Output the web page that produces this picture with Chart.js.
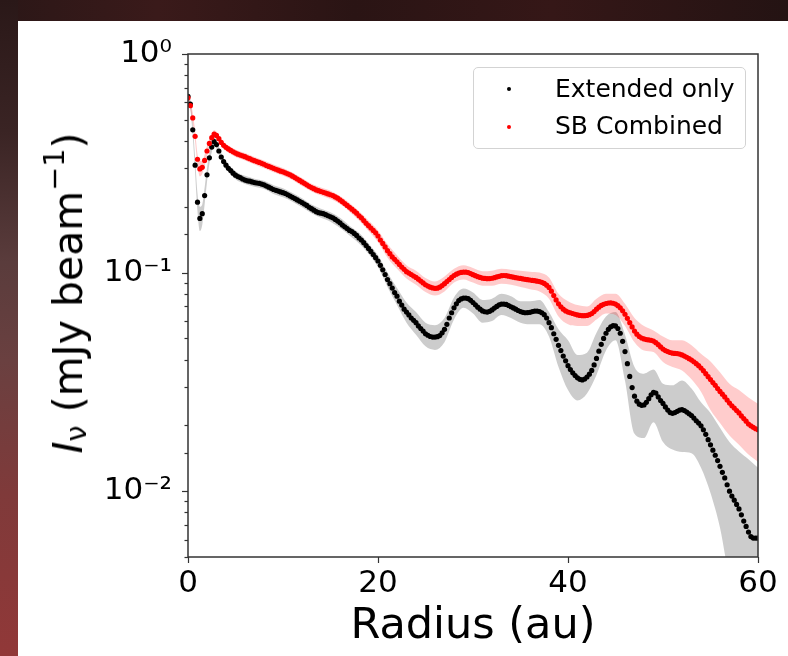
<!DOCTYPE html>
<html>
<head>
<meta charset="utf-8">
<script src="https://cdn.jsdelivr.net/npm/chart.js@4"></script>
<style>
html,body{margin:0;padding:0;}
body{width:788px;height:656px;position:relative;overflow:hidden;background:#2a1616;font-family:"DejaVu Sans";}
#bgTop{position:absolute;left:0;top:0;width:788px;height:21px;background:linear-gradient(to right,#2b1717,#3a1a1a 20%,#2a1414 45%,#351717 70%,#241313);}
#bgLeft{position:absolute;left:0;top:0;width:18px;height:656px;background:linear-gradient(to bottom,#2a1818 0%,#3a2424 20%,#5a3c3c 40%,#6a4040 55%,#7f3a3a 75%,#913838 100%);}
#panel{position:absolute;left:18px;top:21px;width:770px;height:635px;background:#fff;}
#c{position:absolute;left:0;top:0;}
#legend{position:absolute;left:473px;top:67px;width:271px;height:80px;border:1px solid #d3d3d3;border-radius:5px;background:rgba(255,255,255,0.8);}
.dot{position:absolute;width:4px;height:4px;border-radius:50%;}
.lt{position:absolute;left:81px;font-size:25px;line-height:25px;white-space:nowrap;color:#000;}
#ytitle{position:absolute;left:68px;top:293px;transform:translate(-50%,-50%) rotate(-90deg);font-size:41px;line-height:48px;white-space:nowrap;color:#000;}
#ytitle sub{font-size:70%;vertical-align:-4px;line-height:0;}
#ytitle sup{font-size:70%;vertical-align:18px;line-height:0;}
</style>
</head>
<body>
<div id="bgTop"></div>
<div id="bgLeft"></div>
<div id="panel"></div>
<canvas id="c" width="788" height="656"></canvas>
<div id="ytitle"><i>I</i><sub>ν</sub> (mJy beam<sup>−1</sup>)</div>
<div id="legend">
  <span class="dot" style="left:33px;top:19px;background:#000"></span>
  <div class="lt" style="top:8px">Extended only</div>
  <span class="dot" style="left:33px;top:57px;background:#f00"></span>
  <div class="lt" style="top:45px">SB Combined</div>
</div>
<script>
// Radius sample positions (au)
const radius = [0,0.25,0.5,0.75,1,1.25,1.5,1.75,2,2.25,2.5,2.75,3,3.25,3.5,3.75,4,4.25,4.5,4.75,5,5.25,5.5,5.75,6,6.25,6.5,6.75,7,7.25,7.5,7.75,8,8.25,8.5,8.75,9,9.25,9.5,9.75,10,10.25,10.5,10.75,11,11.25,11.5,11.75,12,12.25,12.5,12.75,13,13.25,13.5,13.75,14,14.25,14.5,14.75,15,15.25,15.5,15.75,16,16.25,16.5,16.75,17,17.25,17.5,17.75,18,18.25,18.5,18.75,19,19.25,19.5,19.75,20,20.25,20.5,20.75,21,21.25,21.5,21.75,22,22.25,22.5,22.75,23,23.25,23.5,23.75,24,24.25,24.5,24.75,25,25.25,25.5,25.75,26,26.25,26.5,26.75,27,27.25,27.5,27.75,28,28.25,28.5,28.75,29,29.25,29.5,29.75,30,30.25,30.5,30.75,31,31.25,31.5,31.75,32,32.25,32.5,32.75,33,33.25,33.5,33.75,34,34.25,34.5,34.75,35,35.25,35.5,35.75,36,36.25,36.5,36.75,37,37.25,37.5,37.75,38,38.25,38.5,38.75,39,39.25,39.5,39.75,40,40.25,40.5,40.75,41,41.25,41.5,41.75,42,42.25,42.5,42.75,43,43.25,43.5,43.75,44,44.25,44.5,44.75,45,45.25,45.5,45.75,46,46.25,46.5,46.75,47,47.25,47.5,47.75,48,48.25,48.5,48.75,49,49.25,49.5,49.75,50,50.25,50.5,50.75,51,51.25,51.5,51.75,52,52.25,52.5,52.75,53,53.25,53.5,53.75,54,54.25,54.5,54.75,55,55.25,55.5,55.75,56,56.25,56.5,56.75,57,57.25,57.5,57.75,58,58.25,58.5,58.75,59,59.25,59.5,59.75,60];

// Extended only (mJy/beam)
const extendedOnly = [
0.64,0.59,0.45,0.31, 0.21,0.177,0.186,0.225, 0.28,0.335,0.375,0.397, 0.385,0.36,0.338,0.322,
0.31,0.30,0.293,0.285, 0.279,0.275,0.272,0.268, 0.265,0.263,0.262,0.260, 0.258,0.257,0.256,0.254,
0.252,0.249,0.246,0.243, 0.240,0.238,0.236,0.234, 0.232,0.230,0.227,0.224, 0.221,0.218,0.215,0.212,
0.209,0.206,0.203,0.199, 0.196,0.193,0.190,0.188, 0.187,0.186,0.184,0.182, 0.180,0.178,0.175,0.172,
0.169,0.165,0.162,0.159, 0.156,0.154,0.151,0.148, 0.144,0.141,0.137,0.133, 0.129,0.125,0.121,0.117,
0.113,0.108,0.103,0.098, 0.093,0.089,0.085,0.081, 0.078,0.074,0.071,0.068, 0.066,0.064,0.062,0.0605,
0.059,0.057,0.0555,0.054, 0.0525,0.0517,0.051,0.0507, 0.0507,0.0509,0.0515,0.053, 0.055,0.058,0.062,0.0655,
0.069,0.072,0.0745,0.0758, 0.0765,0.0765,0.076,0.0747, 0.073,0.0712,0.0695,0.068, 0.0668,0.0662,0.066,0.0665,
0.0675,0.0688,0.070,0.0712, 0.0718,0.0718,0.0715,0.0707, 0.0698,0.0689,0.068,0.0671, 0.0663,0.0658,0.0655,0.0656,
0.0658,0.0663,0.0667,0.0667, 0.0663,0.0655,0.0642,0.062, 0.059,0.056,0.0525,0.0495, 0.0465,0.044,0.0415,0.0395,
0.0375,0.036,0.0348,0.0338, 0.033,0.0325,0.0323,0.0326, 0.0333,0.0343,0.0357,0.0378, 0.0405,0.0437,0.047,0.050,
0.0528,0.055,0.0565,0.0572, 0.057,0.0555,0.0528,0.0485, 0.0435,0.0383,0.0335,0.0298, 0.0272,0.0258,0.025,0.0247,
0.0248,0.0255,0.0265,0.0276, 0.0283,0.0281,0.027,0.026, 0.0252,0.0243,0.0235,0.0229, 0.0227,0.0229,0.0232,0.0235,
0.0236,0.0234,0.023,0.0226, 0.0222,0.0216,0.021,0.0205, 0.0199,0.0191,0.0182,0.0172, 0.0163,0.0154,0.0146,0.0138,
0.013,0.0122,0.0115,0.0107, 0.01,0.0095,0.0091,0.0087, 0.0083,0.0078,0.0073,0.0069, 0.0065,0.0062,0.0061,0.0061,
0.0061];

// SB Combined (mJy/beam)
const sbCombined = [
0.63,0.58,0.51,0.42, 0.33,0.298,0.303,0.326, 0.36,0.39,0.414,0.43, 0.424,0.41,0.394,0.382,
0.374,0.368,0.362,0.357, 0.352,0.348,0.345,0.342, 0.339,0.335,0.332,0.328, 0.325,0.322,0.319,0.316,
0.313,0.309,0.306,0.303, 0.3,0.297,0.294,0.291, 0.289,0.286,0.283,0.28, 0.276,0.272,0.268,0.264,
0.26,0.256,0.252,0.248, 0.245,0.242,0.239,0.237, 0.235,0.233,0.231,0.229, 0.227,0.225,0.222,0.219,
0.215,0.211,0.207,0.203, 0.199,0.195,0.191,0.187, 0.182,0.178,0.173,0.168, 0.164,0.16,0.156,0.152,
0.147,0.141,0.136,0.131, 0.126,0.122,0.118,0.115, 0.112,0.109,0.106,0.1035, 0.101,0.0995,0.098,0.0965,
0.095,0.0933,0.0915,0.0897, 0.088,0.0868,0.0858,0.0851, 0.0847,0.0849,0.0858,0.0872, 0.089,0.091,0.093,0.095,
0.097,0.0984,0.0995,0.1002, 0.1005,0.1004,0.1,0.099, 0.0978,0.0968,0.0958,0.095, 0.0943,0.094,0.0938,0.0939,
0.0942,0.0948,0.0955,0.0962, 0.0968,0.097,0.0968,0.0963, 0.0958,0.0953,0.0948,0.0944, 0.094,0.0936,0.0932,0.0928,
0.0925,0.0921,0.0918,0.0914, 0.091,0.0903,0.0892,0.0876, 0.0855,0.0822,0.0785,0.075, 0.072,0.0698,0.068,0.0668,
0.066,0.0655,0.065,0.0645, 0.064,0.0637,0.0635,0.0635, 0.0637,0.0642,0.065,0.0663, 0.068,0.0695,0.0708,0.0716,
0.0722,0.0726,0.0727,0.0724, 0.0718,0.0706,0.069,0.0669, 0.0645,0.0618,0.059,0.0564, 0.054,0.0523,0.051,0.0502,
0.0497,0.0494,0.0492,0.049, 0.0486,0.0478,0.0468,0.0457, 0.0447,0.044,0.0435,0.0431, 0.0428,0.0427,0.0426,0.0424,
0.042,0.0415,0.041,0.0404, 0.0398,0.0391,0.0383,0.0375, 0.0366,0.0356,0.0345,0.0334, 0.0324,0.0314,0.0305,0.0295,
0.0286,0.0278,0.027,0.0261, 0.0253,0.0246,0.024,0.0234, 0.0228,0.0221,0.0215,0.0209, 0.0203,0.0199,0.0196,0.0193,
0.0191];

// Uncertainty band sample positions (au)
const bandRadius = [0,0.25,0.5,0.75,1,1.25,1.5,1.75,2,2.25,2.5,2.75,3,3.25,3.5,3.75,4,5,6,7,8,9,10,11,12,13,14,15,16,17,18,19,20,21,22,23,24,25,26,27,28,29,30,31,32,33,34,35,36,37,38,39,40,41,42,43,44,45,46,47,48,49,50,51,52,53,54,55,56,57,58,59,60];

const extendedLow = [0.62,0.56,0.42,0.285,0.19,0.155,0.165,0.205,0.26,0.315,0.355,0.38,0.37,0.345,0.325,0.309,0.298,
0.267,0.254,0.247,0.241,0.229,0.221,0.211,0.199,0.187,0.178,0.171,0.160,0.148,0.136,0.122,0.106,0.086,0.071,0.059,0.052,0.046,0.0443,0.048,0.061,0.069,0.065,0.059,0.060,0.064,0.062,0.059,0.058,0.058,0.051,0.037,0.029,0.026,0.028,0.034,0.044,0.049,0.032,0.0183,0.0175,0.0207,0.0168,0.0155,0.0151,0.0149,0.0128,0.0098,0.0068,0.0040,0.0030,0.0025,0.0022];
const extendedHigh = [0.66,0.62,0.48,0.335,0.23,0.20,0.205,0.245,0.30,0.355,0.395,0.415,0.40,0.375,0.352,0.335,0.322,
0.291,0.277,0.269,0.263,0.251,0.243,0.231,0.219,0.205,0.196,0.189,0.178,0.164,0.152,0.136,0.120,0.100,0.085,0.073,0.066,0.059,0.0575,0.062,0.077,0.0845,0.081,0.075,0.076,0.080,0.078,0.074,0.074,0.075,0.066,0.055,0.049,0.042,0.043,0.053,0.063,0.066,0.052,0.037,0.0345,0.036,0.031,0.0305,0.0321,0.0295,0.0255,0.0228,0.0195,0.0168,0.0152,0.0140,0.0128];
const combinedLow = [0.61,0.555,0.48,0.395,0.31,0.275,0.283,0.307,0.34,0.372,0.397,0.413,0.408,0.395,0.38,0.368,0.36,
0.338,0.326,0.312,0.300,0.288,0.277,0.265,0.249,0.235,0.225,0.217,0.206,0.190,0.173,0.155,0.138,0.117,0.104,0.094,0.088,0.0815,0.0785,0.082,0.090,0.093,0.090,0.087,0.087,0.089,0.088,0.086,0.084,0.082,0.076,0.063,0.058,0.057,0.057,0.061,0.065,0.064,0.057,0.048,0.044,0.0433,0.039,0.037,0.0357,0.0325,0.0285,0.0235,0.0205,0.0180,0.0163,0.0147,0.0136];
const combinedHigh = [0.65,0.605,0.54,0.445,0.35,0.325,0.325,0.347,0.38,0.41,0.432,0.448,0.441,0.426,0.409,0.396,0.388,
0.366,0.352,0.338,0.326,0.312,0.301,0.287,0.271,0.255,0.245,0.237,0.224,0.208,0.191,0.173,0.156,0.135,0.120,0.108,0.102,0.0945,0.091,0.096,0.104,0.108,0.105,0.1015,0.102,0.104,0.103,0.102,0.101,0.100,0.095,0.080,0.074,0.071,0.070,0.076,0.080,0.080,0.072,0.062,0.057,0.0544,0.051,0.049,0.049,0.0465,0.0425,0.0392,0.0350,0.0310,0.0290,0.0268,0.0251];

// Axis ticks
const xTicks = [0, 20, 40, 60];
const yDecades = [1, 0.1, 0.01];
const supMap = {'-':'⁻','0':'⁰','1':'¹','2':'²','3':'³'};

function pts(xs, ys){ return xs.map((x,i)=>({x:x, y:ys[i]})); }
function isDecade(v){ const l = Math.log10(v); return Math.abs(l - Math.round(l)) < 1e-6; }
function decadeLabel(v){
  const e = String(Math.round(Math.log10(v)));
  return '10' + e.split('').map(c=>supMap[c]).join('');
}

const framePlugin = {
  id: 'frame',
  afterDatasetsDraw(chart){
    const ctx = chart.ctx, a = chart.chartArea, y = chart.scales.y;
    ctx.save();
    ctx.strokeStyle = '#333';
    ctx.lineWidth = 1.2;
    y.ticks.forEach(t => {
      const py = Math.round(y.getPixelForValue(t.value)) + 0.5;
      const len = isDecade(t.value) ? 6 : 3.5;
      ctx.beginPath(); ctx.moveTo(a.left - len, py); ctx.lineTo(a.left, py); ctx.stroke();
    });
    ctx.lineWidth = 1.5;
    ctx.strokeRect(a.left, a.top, a.right - a.left, a.bottom - a.top);
    ctx.restore();
  }
};

const font = 'DejaVu Sans';
new Chart(document.getElementById('c'), {
  type: 'line',
  data: {
    datasets: [
      { label: 'Extended band high', data: pts(bandRadius, extendedHigh), borderWidth: 0, pointRadius: 0, fill: false, cubicInterpolationMode: 'monotone', order: 6 },
      { label: 'Extended band low', data: pts(bandRadius, extendedLow), borderWidth: 0, pointRadius: 0, fill: '-1', backgroundColor: 'rgba(0,0,0,0.2)', cubicInterpolationMode: 'monotone', order: 5 },
      { label: 'Combined band high', data: pts(bandRadius, combinedHigh), borderWidth: 0, pointRadius: 0, fill: false, cubicInterpolationMode: 'monotone', order: 4 },
      { label: 'Combined band low', data: pts(bandRadius, combinedLow), borderWidth: 0, pointRadius: 0, fill: '-1', backgroundColor: 'rgba(255,0,0,0.2)', cubicInterpolationMode: 'monotone', order: 3 },
      { label: 'Extended only', data: pts(radius, extendedOnly), showLine: false, pointRadius: 2.6, pointBorderWidth: 0, pointBackgroundColor: '#000', borderColor: '#000', order: 1 },
      { label: 'SB Combined', data: pts(radius, sbCombined), showLine: false, pointRadius: 2.6, pointBorderWidth: 0, pointBackgroundColor: '#f00', borderColor: '#f00', order: 0 }
    ]
  },
  options: {
    responsive: false,
    animation: false,
    devicePixelRatio: 1,
    layout: { padding: { left: 0, top: 54, right: 30, bottom: 0 } },
    plugins: { legend: { display: false }, tooltip: { enabled: false } },
    scales: {
      x: {
        type: 'linear', min: 0, max: 60,
        afterBuildTicks: s => { s.ticks = xTicks.map(v => ({ value: v })); },
        afterFit: s => { s.height = 99; },
        grid: { display: true, drawOnChartArea: false, drawTicks: true, tickLength: 6, tickColor: '#333', tickWidth: 1.2 },
        border: { display: false },
        ticks: { font: { family: font, size: 31 }, color: '#000', padding: 2, maxRotation: 0, autoSkip: false },
        title: { display: true, text: 'Radius (au)', font: { family: font, size: 43 }, color: '#000', padding: { top: 0, bottom: 3 } }
      },
      y: {
        type: 'logarithmic', min: 0.005, max: 1,
        afterFit: s => { s.width = 188; },
        grid: { display: false, drawTicks: false },
        border: { display: false },
        ticks: {
          font: { family: font, size: 31 }, color: '#000', padding: 16, autoSkip: false,
          callback: v => (yDecades.some(d => Math.abs(d - v) / d < 1e-6) ? decadeLabel(v) : '')
        }
      }
    }
  },
  plugins: [framePlugin]
});
</script>
</body>
</html>
